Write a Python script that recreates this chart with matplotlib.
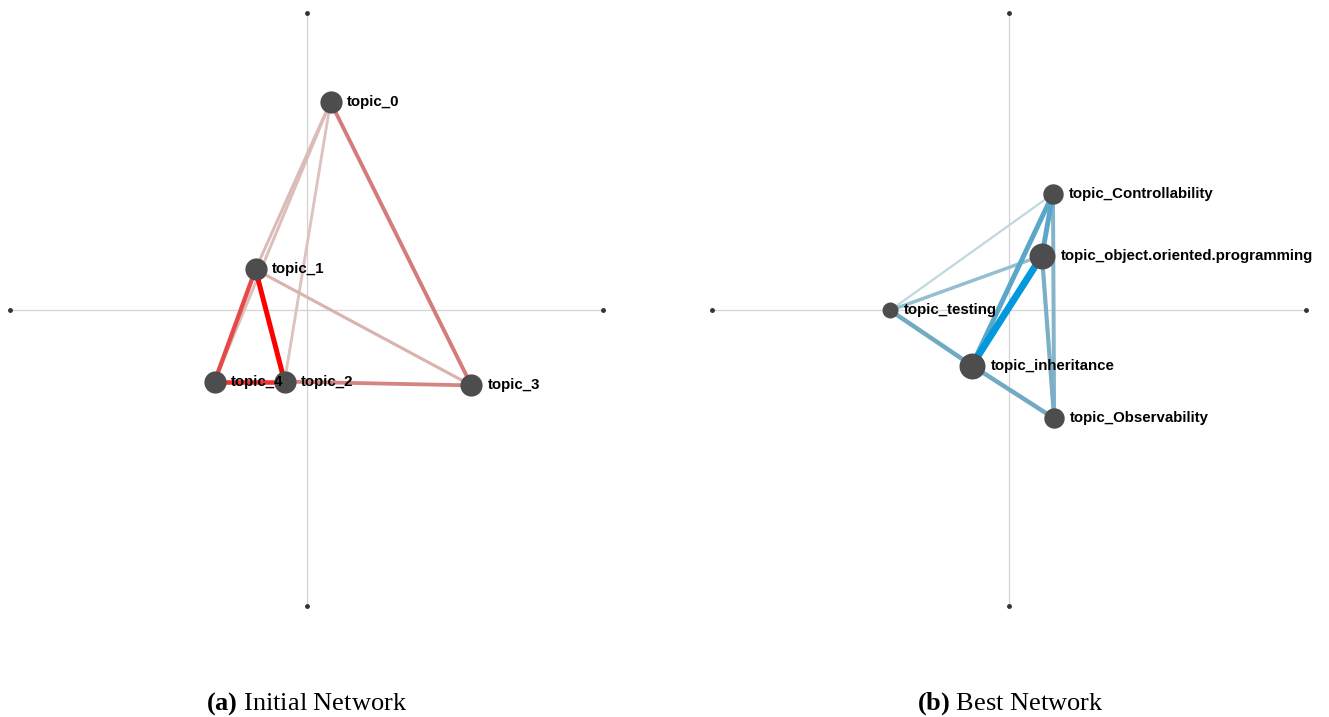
import matplotlib.pyplot as plt
import numpy as np
from matplotlib.colors import LinearSegmentedColormap

plt.rcParams['mathtext.fontset'] = 'custom'
plt.rcParams['mathtext.rm'] = 'Liberation Serif'
plt.rcParams['mathtext.bf'] = 'Liberation Serif:bold'

# (a) initial network: layout coordinates, node weights, edges
init_nodes = ['topic_0', 'topic_1', 'topic_2', 'topic_3', 'topic_4']
init_x = [0.081, -0.172, -0.074, 0.556, -0.310]
init_y = [0.700, 0.135, -0.243, -0.256, -0.243]
init_size = [1.0, 1.0, 1.0, 1.0, 1.0]
init_edges = [(1, 2), (4, 2), (1, 4), (0, 3), (2, 3), (1, 3), (0, 1), (0, 4), (0, 2)]
init_weight = [1.0, 0.8, 0.7, 0.5, 0.45, 0.15, 0.1, 0.08, 0.05]

# (b) best network
best_nodes = ['topic_Controllability', 'topic_object.oriented.programming',
              'topic_testing', 'topic_inheritance', 'topic_Observability']
best_x = [0.148, 0.111, -0.400, -0.125, 0.152]
best_y = [0.390, 0.182, -0.003, -0.189, -0.367]
best_size = [0.75, 1.0, 0.55, 1.0, 0.75]
best_edges = [(3, 1), (3, 0), (1, 0), (2, 3), (3, 4), (1, 4), (0, 4), (2, 1), (2, 0)]
best_weight = [1.0, 0.6, 0.6, 0.5, 0.5, 0.45, 0.4, 0.3, 0.05]

reds = LinearSegmentedColormap.from_list('r', ['#ddcac6', '#d47c7a', '#ff0000'])
blues = LinearSegmentedColormap.from_list('b', ['#c9dce3', '#72aac4', '#0099dd'])


def draw_network(ax, names, xs, ys, sizes, edges, weights, cmap, wmin, wmax, ms_min, ms_max):
    ax.set_xlim(-1, 1)
    ax.set_ylim(-1, 1)
    ax.axis('off')
    # cross through the origin with dots at the ends
    ax.plot([-1, 1], [0, 0], color='#d3d3d3', lw=0.9, zorder=0, clip_on=False)
    ax.plot([0, 0], [-1, 1], color='#d3d3d3', lw=0.9, zorder=0, clip_on=False)
    ax.plot([-1, 1, 0, 0], [0, 0, -1, 1], 'o', color='#333333', ms=2.5,
            zorder=1, clip_on=False)

    order = np.argsort(weights)
    for k in order:
        i, j = edges[k]
        w = weights[k]
        ax.plot([xs[i], xs[j]], [ys[i], ys[j]], color=cmap(w),
                lw=wmin + (wmax - wmin) * w, solid_capstyle='butt', zorder=2 + w)

    for n in range(len(names)):
        ms = ms_min + (ms_max - ms_min) * (sizes[n] - 0.55) / 0.45
        ax.plot(xs[n], ys[n], 'o', color='#4d4d4d', ms=ms, mec='none', zorder=5)
        ax.annotate(names[n], (xs[n], ys[n]), xytext=(ms / 2 + 4, 0),
                    textcoords='offset points', va='center', ha='left',
                    fontsize=10.8, fontweight='bold', family='Liberation Sans',
                    zorder=6)


fig = plt.figure(figsize=(13.29, 7.17), dpi=100)
ax1 = fig.add_axes([10 / 1329, 1 - 606 / 717, 593 / 1329, 593 / 717])
ax2 = fig.add_axes([712 / 1329, 1 - 606 / 717, 594 / 1329, 593 / 717])

draw_network(ax1, init_nodes, init_x, init_y, init_size, init_edges, init_weight,
             reds, 2.0, 3.6, 16, 16)
draw_network(ax2, best_nodes, best_x, best_y, best_size, best_edges, best_weight,
             blues, 1.4, 5.0, 11.5, 18.7)

fig.text(307 / 1329, 1 - 704 / 717, r'$\mathbf{(a)}$ Initial Network', ha='center', va='center',
         fontsize=19, family='Liberation Serif')
fig.text(1010 / 1329, 1 - 704 / 717, r'$\mathbf{(b)}$ Best Network', ha='center', va='center',
         fontsize=19, family='Liberation Serif')

fig.savefig('out.png', dpi=100)
